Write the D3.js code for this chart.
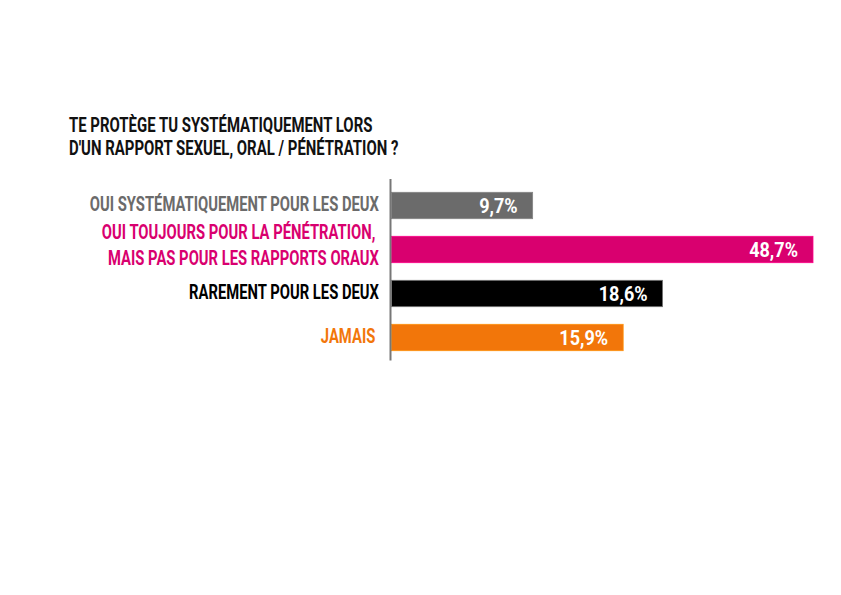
<!DOCTYPE html>
<html>
<head>
<meta charset="utf-8">
<script src="https://cdn.jsdelivr.net/npm/d3@7"></script>
<style>
  html, body { margin: 0; padding: 0; background: #fff; }
  svg text { font-family: "Roboto", "Liberation Sans", sans-serif; font-weight: bold; }
</style>
</head>
<body>
<svg id="chart" width="841" height="595"></svg>
<script>
const titleLines = ["TE PROTÈGE TU SYSTÉMATIQUEMENT LORS", "D'UN RAPPORT SEXUEL, ORAL / PÉNÉTRATION ?"];
const categories = ["sys", "pen", "rare", "jamais"];
const categoryLabels = [
  ["OUI SYSTÉMATIQUEMENT POUR LES DEUX"],
  ["OUI TOUJOURS POUR LA PÉNÉTRATION, ", "MAIS PAS POUR LES RAPPORTS ORAUX"],
  ["RAREMENT POUR LES DEUX"],
  ["JAMAIS "]
];
const values = [9.7, 48.7, 18.6, 15.9];
const valueLabels = ["9,7%", "48,7%", "18,6%", "15,9%"];
const colors = ["#6b6b6b", "#d9006f", "#000000", "#f2760a"];

const condenseTitle = 0.74;   // horizontal compression to mimic a condensed face
const condenseLabel = 0.74;
const condenseNum = 0.86;

const svg = d3.select("#chart");

const x = d3.scaleLinear().domain([0, 28.9]).range([391, 813]).clamp(true);
const y = d3.scaleBand().domain(categories).range([183.5, 359.5]).paddingInner(0.4).paddingOuter(0.2);

// title
svg.append("g").selectAll("text").data(titleLines).join("text")
  .attr("transform", (d, i) => `translate(69,${131.8 + i * 23}) scale(${condenseTitle},1)`)
  .attr("font-size", 20.2)
  .attr("fill", "#111")
  .text(d => d);

// bars
svg.append("g").selectAll("rect").data(values).join("rect")
  .attr("x", x(0) + 0.5)
  .attr("y", (d, i) => y(categories[i]))
  .attr("width", d => x(d) - x(0) - 0.5)
  .attr("height", y.bandwidth())
  .attr("fill", (d, i) => colors[i])
  .attr("stroke", (d, i) => i === 2 ? "#777" : d3.color(colors[i]).brighter(0.6))
  .attr("stroke-width", 0.8);

// axis line
svg.append("line")
  .attr("x1", x(0) - 0.5).attr("x2", x(0) - 0.5)
  .attr("y1", 179).attr("y2", 360.5)
  .attr("stroke", "#777").attr("stroke-width", 2);

// value labels
svg.append("g").selectAll("text").data(values).join("text")
  .attr("transform", (d, i) => `translate(${x(d) - 15},${y(categories[i]) + y.bandwidth() / 2 + 7.8}) scale(${condenseNum},1)`)
  .attr("text-anchor", "end")
  .attr("font-size", 21)
  .attr("fill", "#fff")
  .text((d, i) => valueLabels[i]);

// category labels
const labG = svg.append("g");
categoryLabels.forEach((lines, i) => {
  const cy = y(categories[i]) + y.bandwidth() / 2;
  const n = lines.length;
  lines.forEach((l, j) => {
    labG.append("text")
      .attr("transform", `translate(379,${cy + 5.5 + (j - (n - 1) / 2) * 26 - (n > 1 ? 3 : 0)}) scale(${condenseLabel},1)`)
      .attr("text-anchor", "end")
      .attr("font-size", 20)
      .attr("fill", colors[i])
      .style("white-space", "pre")
      .text(l);
  });
});
</script>
</body>
</html>
